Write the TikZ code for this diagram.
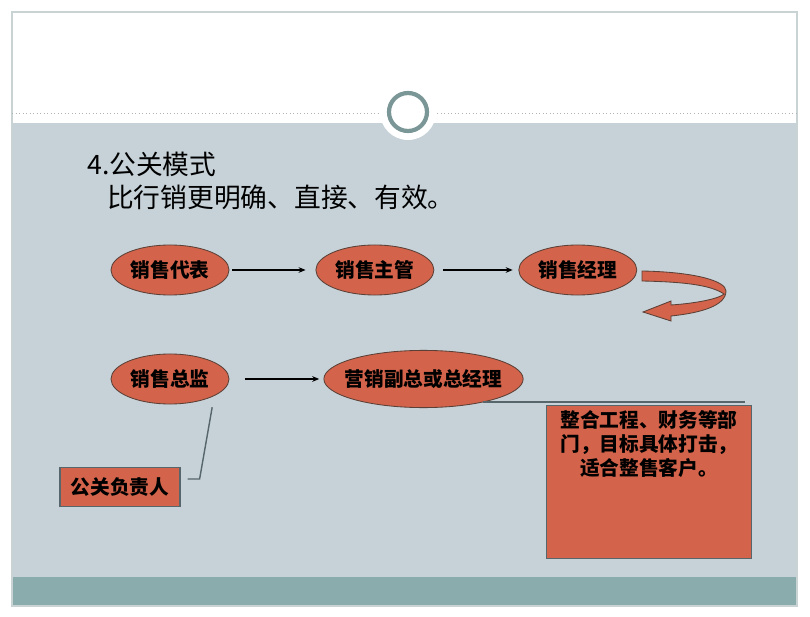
\documentclass[tikz,border=0pt]{standalone}
\usepackage{fontspec}
\setmainfont{Noto Sans CJK SC}
\usetikzlibrary{arrows.meta, positioning, shapes.geometric, calc}
\definecolor{ink}{HTML}{000000}
\definecolor{slide}{HTML}{C6D2D8}
\definecolor{band}{HTML}{8BACAC}
\definecolor{ring}{HTML}{7B9696}
\definecolor{rim}{HTML}{C9D3D3}
\definecolor{brick}{HTML}{D3634A}
\definecolor{edge}{HTML}{5B4037}
\definecolor{lead}{HTML}{56666A}
\tikzset{
  oval/.style={ellipse, draw=edge, fill=brick, line width=0.6pt, inner sep=0.5pt,
               minimum width=2.95cm, minimum height=1.25cm,
               font=\fontsize{14}{16}\selectfont\bfseries, text=ink},
  rbox/.style={rectangle, draw=lead, fill=brick, line width=0.8pt, inner sep=0pt,
               font=\fontsize{14}{17}\selectfont\bfseries, text=ink},
  ttl/.style={anchor=west, inner sep=0pt, font=\fontsize{19}{21}\selectfont, text=ink},
  fl/.style={-{Stealth[length=5pt, width=4pt]}, line width=0.9pt, draw=ink},
  ll/.style={line width=1pt, draw=lead},
}

\begin{document}
\begin{tikzpicture}[x=0.025cm, y=-0.025cm]
  \useasboundingbox (0,0) rectangle (810,617);
  % slide background
  \fill[white] (0,0) rectangle (810,617);
  \fill[slide] (12,123) rectangle (797,577);
  \fill[band] (12,577) rectangle (797,606);
  \draw[rim, line width=0.8pt] (12,12) rectangle (797,606);
  \draw[gray!60, dotted, line width=0.5pt] (12,113) -- (797,113);
  \fill[white] (408,112) circle [radius=28];
  \draw[ring, line width=3pt] (408,112) circle [radius=19];

  % title
  \node[ttl] (t1) at (87,164) {4.公关模式};
  \node[ttl] (t2) at (107,197) {比行销更明确、直接、有效。};

  % first row
  \node[oval] (db) at (170,270) {销售代表};
  \node[oval, right=2.15cm of db] (zg) {销售主管};
  \node[oval, right=2.1cm of zg] (jl) {销售经理};
  \draw[fl] ([xshift=2pt]db.east) -- ([xshift=-7pt]zg.west);
  \draw[fl] ([xshift=6pt]zg.east) -- ([xshift=-4pt]jl.west);

  % turn-back arrow
  \filldraw[fill=brick, draw=edge, line width=0.6pt]
    (642,271) .. controls (695,272) and (726,281) .. (726,291)
    .. controls (726,306) and (700,313) .. (671,316) -- (671,321) -- (643,312)
    -- (671,301) -- (671,305) .. controls (700,303) and (720,298) .. (724,294)
    .. controls (712,286) and (690,282) .. (642,281) -- cycle;

  % second row
  \node[oval] (zj) at (170,379) {销售总监};
  \node[oval, right=2.35cm of zj, minimum width=4.98cm, minimum height=1.43cm,
        inner xsep=-2.8mm] (fz) {营销副总或总经理};
  \draw[fl] ([xshift=11pt]zj.east) -- ([xshift=-3pt]fz.west);

  \node[rbox, minimum width=3cm, minimum height=0.98cm] (gg) at (120,487) {公关负责人};
  \node[rbox, anchor=north west, minimum width=5.125cm, minimum height=3.83cm] (note)
    at (546,405) {\parbox[c][3.6cm][t]{4.9cm}{\centering 整合工程、财务等部\\门，目标具体打击，\\适合整售客户。}};

  % callout lines
  \draw[ll] ([xshift=5pt, yshift=5.7pt]gg.east) -- ++(12,0) -- ([xshift=30pt, yshift=-2pt]zj.south);
  \draw[ll] ([xshift=42pt, yshift=4.3pt]fz.south) -- ++(262,0);
\end{tikzpicture}
\end{document}
